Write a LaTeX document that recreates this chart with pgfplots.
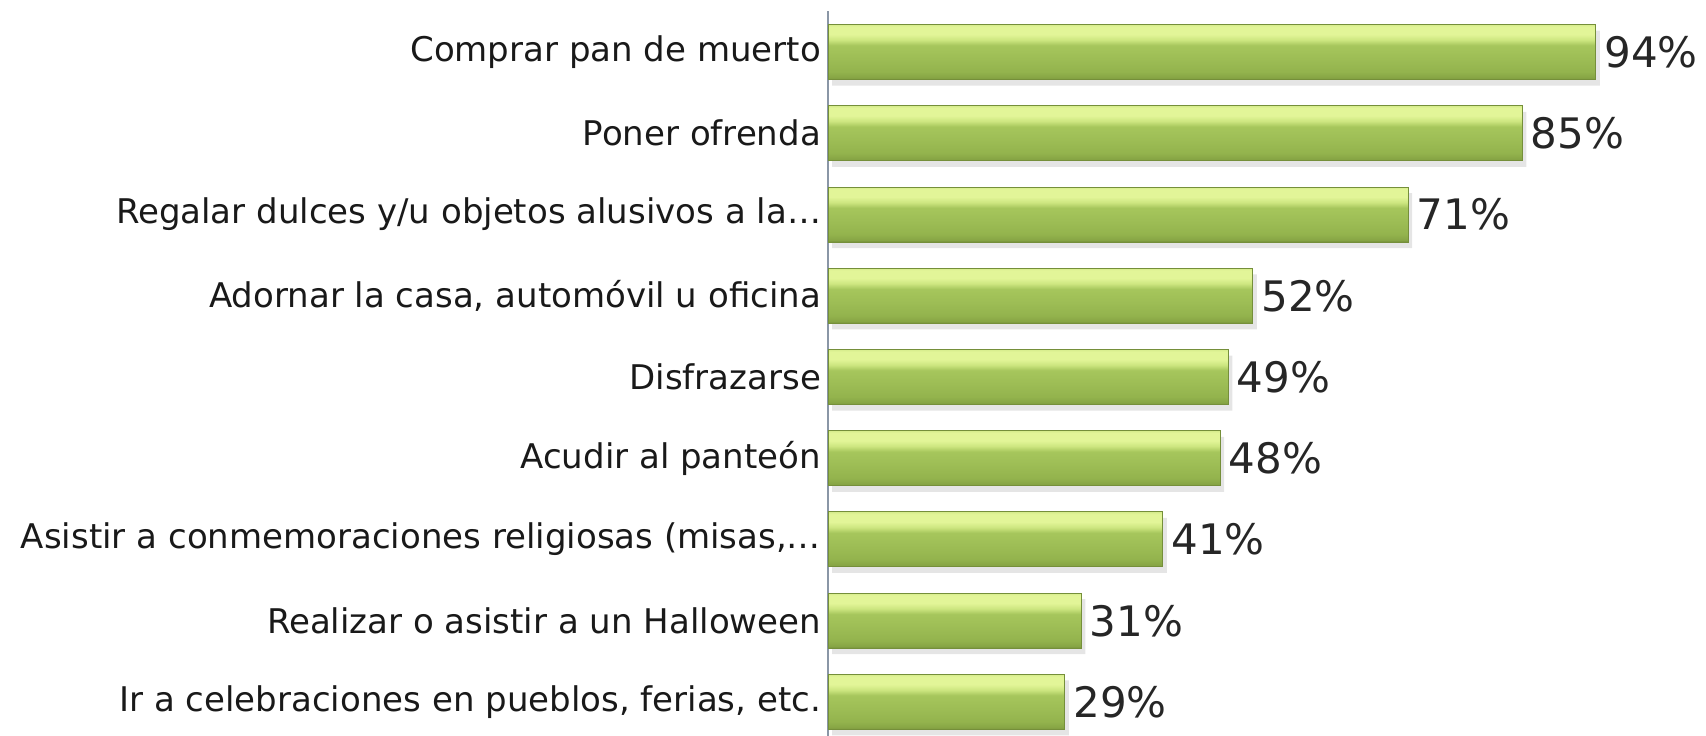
\documentclass[border=0pt]{standalone}
\usepackage{fontspec}
\setmainfont{DejaVu Sans}
\usepackage{pgfplots}
\pgfplotsset{compat=1.18}
\definecolor{sA}{HTML}{6E8737}
\definecolor{sB}{HTML}{86A444}
\definecolor{sC}{HTML}{93B34D}
\definecolor{sD}{HTML}{9DBD55}
\definecolor{sE}{HTML}{A6C65C}
\definecolor{sF}{HTML}{CDE680}
\definecolor{sG}{HTML}{E2F598}
\definecolor{sH}{HTML}{D6EC8C}
\definecolor{barEdge}{HTML}{758F3A}
\definecolor{axisgray}{HTML}{8A96A6}
\pgfdeclareverticalshading{barshade}{100bp}{color(0bp)=(sA); color(25bp)=(sA); color(26.5bp)=(sB); color(32bp)=(sC); color(44bp)=(sD); color(56bp)=(sE); color(61bp)=(sF); color(66bp)=(sG); color(73bp)=(sG); color(75bp)=(sH); color(100bp)=(sH)}
\pgfplotsset{
  greenbar/.style={shading=barshade, draw=barEdge, line width=0.5pt},
  shadowbar/.style={fill=black, fill opacity=0.10, draw=none, bar shift=-3pt, xshift=2pt, nodes near coords={}},
}
\begin{document}
\begin{tikzpicture}
\begin{axis}[
  at={(414pt,-3.8pt)}, anchor=south west,
  scale only axis, width=408.5pt, height=365.6pt,
  xbar, bar shift=0pt, xmin=0, xmax=100, ymin=-0.5, ymax=8.5,
  bar width=27.5pt,
  hide x axis,
  axis y line*=left,
  y axis line style={draw=axisgray, line width=1pt, -},
  ytick={0,...,8},
  yticklabels={{Ir a celebraciones en pueblos, ferias, etc.},
    {Realizar o asistir a un Halloween},
    {Asistir a conmemoraciones religiosas (misas,…},
    {Acudir al panteón},
    {Disfrazarse},
    {Adornar la casa, automóvil u oficina},
    {Regalar dulces y/u objetos alusivos a la…},
    {Poner ofrenda},
    {Comprar pan de muerto}},
  major tick length=0pt,
  yticklabel style={font=\fontsize{17}{20}\selectfont, text=black!90},
  /pgf/number format/assume math mode=true,
  point meta=x,
  nodes near coords={\pgfmathprintnumber{\pgfplotspointmeta}\%},
  every node near coord/.append style={font=\fontsize{21}{24}\selectfont, text=black!85, inner sep=4pt},
]
\addplot[shadowbar] coordinates {(29,0) (31,1) (41,2) (48,3) (49,4) (52,5) (71,6) (85,7) (94,8)};
\addplot[greenbar] coordinates {(29,0)};
\addplot[greenbar] coordinates {(31,1)};
\addplot[greenbar] coordinates {(41,2)};
\addplot[greenbar] coordinates {(48,3)};
\addplot[greenbar] coordinates {(49,4)};
\addplot[greenbar] coordinates {(52,5)};
\addplot[greenbar] coordinates {(71,6)};
\addplot[greenbar] coordinates {(85,7)};
\addplot[greenbar] coordinates {(94,8)};
\end{axis}
\pgfresetboundingbox
\path (0,0) rectangle (853pt,367.5pt);
\end{tikzpicture}
\end{document}
